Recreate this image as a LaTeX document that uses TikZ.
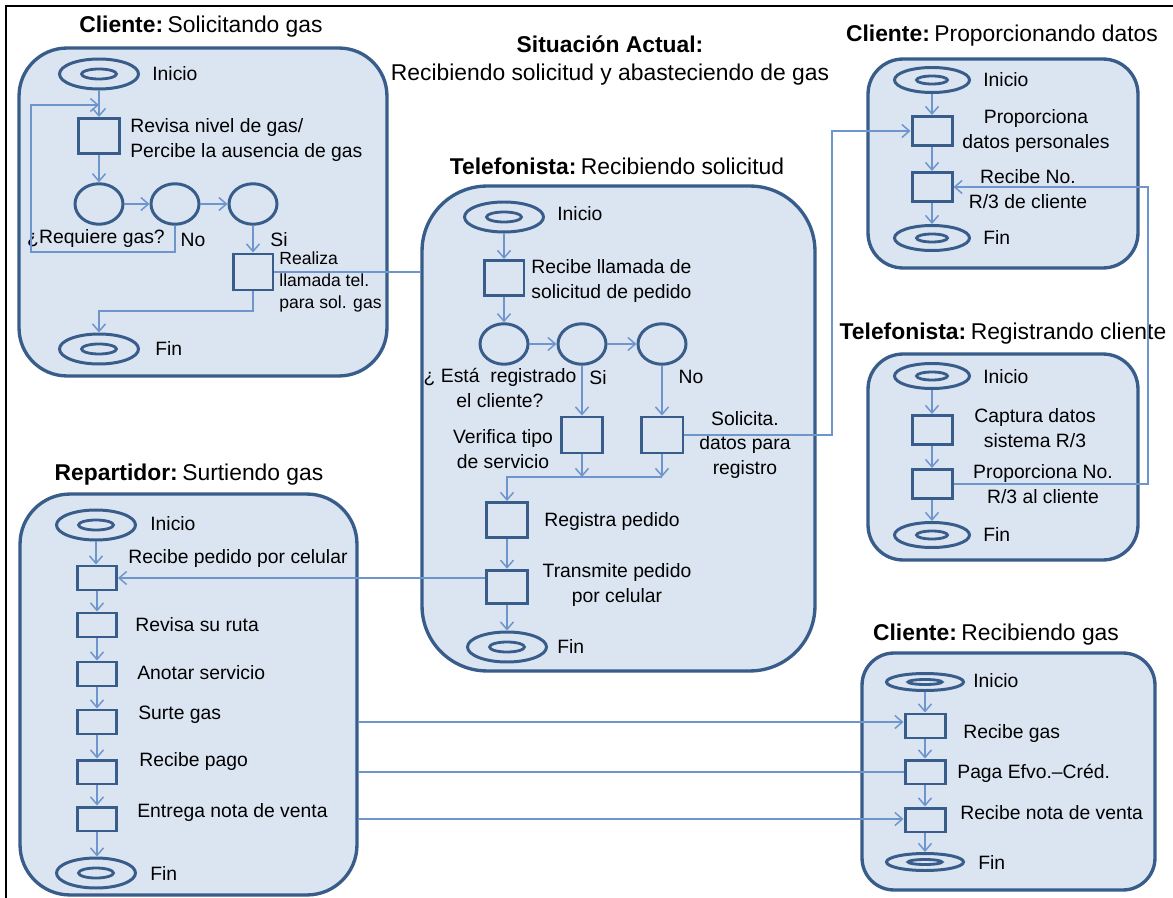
\documentclass[tikz,border=0pt]{standalone}
\usepackage{fontspec}
\setmainfont{Liberation Sans}
\usetikzlibrary{shapes.geometric,arrows.meta}
\definecolor{pfill}{RGB}{219,229,241}
\definecolor{pborder}{RGB}{56,93,138}
\definecolor{lblue}{RGB}{110,150,205}
\tikzset{
  panel/.style={draw=pborder,fill=pfill,line width=1.9pt,inner sep=0pt},
  shp/.style={draw=pborder,line width=1.7pt,inner sep=0pt},
  box/.style 2 args={shp,rectangle,minimum width=#1,minimum height=#2},
  circ/.style={shp,ellipse,minimum width=0.96cm,minimum height=0.81cm},
  term/.style n args={4}{shp,ellipse,minimum width=#1,minimum height=#2,
    path picture={\draw[pborder,line width=1.6pt] (path picture bounding box.center) ellipse [x radius=#3,y radius=#4];}},
  bigterm/.style={term={1.58cm}{0.6cm}{0.35cm}{0.1cm}},
  midterm/.style={term={1.5cm}{0.5cm}{0.31cm}{0.08cm}},
  flatterm/.style={term={1.54cm}{0.34cm}{0.34cm}{0.05cm}},
  lbl/.style={inner sep=0pt,font=\fontsize{11}{13.8}\selectfont},
  sml/.style={inner sep=0pt,font=\fontsize{10}{12.5}\selectfont},
  ttl/.style={inner sep=0pt,font=\fontsize{13}{15.6}\selectfont},
  conn/.style={draw=lblue,line width=0.85pt},
  arr/.style={conn,-{Straight Barb[length=0.15cm,width=0.26cm]}}
}
\newcommand{\tsp}{\hspace{0.2em}}
\begin{document}
\begin{tikzpicture}[x=0.02cm,y=-0.02cm]
\useasboundingbox (0,0) rectangle (1173,898);
\fill[white] (0,0) rectangle (1173,898);
\draw[black,line width=1.5pt] (6,898) -- (6,6) -- (1173,6);

% ---------- panels ----------
\node[panel,rounded corners=0.96cm,minimum width=7.36cm,minimum height=6.56cm] (P1) at (203,212) {};
\node[panel,rounded corners=1.3cm,minimum width=7.86cm,minimum height=9.7cm] (P2) at (618.5,428.5) {};
\node[panel,rounded corners=0.7cm,minimum width=5.4cm,minimum height=4.18cm] (P3) at (1003,163.5) {};
\node[panel,rounded corners=0.7cm,minimum width=5.4cm,minimum height=4.12cm] (P4) at (1003,457) {};
\node[panel,rounded corners=1.0cm,minimum width=6.74cm,minimum height=8.02cm] (P5) at (188.5,694.5) {};
\node[panel,rounded corners=0.64cm,minimum width=5.86cm,minimum height=4.74cm] (P6) at (1008.5,771.5) {};

% ---------- titles ----------
\node[ttl] (t1) at (201,27) {\textbf{Cliente:}\tsp Solicitando gas};
\node[ttl,align=center] (t0) at (610,60.5) {\textbf{Situación Actual:}\\Recibiendo solicitud y abasteciendo de gas};
\node[ttl] (t2) at (617,166) {\textbf{Telefonista:}\tsp Recibiendo solicitud};
\node[ttl] (t3) at (1002,36) {\textbf{Cliente:}\tsp Proporcionando datos};
\node[ttl] (t4) at (1003,334) {\textbf{Telefonista:}\tsp Registrando cliente};
\node[ttl] (t5) at (189,475) {\textbf{Repartidor:}\tsp Surtiendo gas};
\node[ttl] (t6) at (996,635) {\textbf{Cliente:}\tsp Recibiendo gas};

% ---------- panel 1 ----------
\node[bigterm] (a0) at (99,74) {};
\node[lbl,anchor=west] (a0l) at (152,74) {Inicio};
\node[box={0.82cm}{0.70cm}] (a1) at (99,136) {};
\node[lbl,anchor=west,align=left] (a1l) at (130,140) {Revisa nivel de gas/\\Percibe la ausencia de gas};
\node[circ] (a2) at (99,204) {};
\node[circ] (a3) at (175,204) {};
\node[circ] (a4) at (253,204) {};
\node[lbl] (a2l) at (96,239) {¿Requiere gas?};
\node[lbl] (a3l) at (193,240) {No};
\node[lbl] (a4l) at (279,240) {Si};
\node[box={0.8cm}{0.72cm}] (a5) at (253,272) {};
\node[sml,anchor=west,align=left] (a5l) at (279,282) {Realiza\\llamada tel.\\para sol. gas};
\node[bigterm] (a6) at (99,349) {};
\node[lbl,anchor=west] (a6l) at (155,348) {Fin};

\coordinate (lpA) at (31,252);
\coordinate (lpB) at (31,105);
\coordinate (fA) at (253,311);
\draw[arr] (a0.south) -- (a1.north);
\draw[arr] (a1.south) -- (a2.north);
\draw[arr] (a2.east) -- (a3.west);
\draw[arr] (a3.east) -- (a4.west);
\draw[arr] (a4.south) -- (a5.north);
\draw[arr] (a3.south) |- (lpA) -- (lpB) -- (a0.south |- lpB);
\draw[arr] (a5.south) -- (fA) -| (a6.north);
\draw[conn] (a5.east) -- (a5.east -| P2.west);

% ---------- panel 2 ----------
\node[bigterm] (b0) at (504,217) {};
\node[lbl,anchor=west] (b0l) at (557,214) {Inicio};
\node[box={0.8cm}{0.7cm}] (b1) at (504,278) {};
\node[lbl,anchor=west,align=left] (b1l) at (531,281) {Recibe llamada de\\solicitud de pedido};
\node[circ] (b2) at (504,344) {};
\node[circ] (b3) at (582,344) {};
\node[circ] (b4) at (662,344) {};
\node[lbl,align=center] (b2l) at (500,388) {¿ Está\ \ registrado\\el cliente?};
\node[lbl] (b3l) at (598,378) {Si};
\node[lbl] (b4l) at (691,377) {No};
\node[box={0.82cm}{0.72cm}] (b5) at (582,435) {};
\node[box={0.84cm}{0.72cm}] (b6) at (662,435) {};
\node[lbl,align=center] (b5l) at (503,449) {Verifica tipo\\de servicio};
\node[lbl,align=center] (b6l) at (745,445) {Solicita.\\datos para\\registro};
\node[box={0.82cm}{0.7cm}] (b7) at (507,520) {};
\node[lbl] (b7l) at (612,522) {Registra pedido};
\node[box={0.82cm}{0.67cm}] (b8) at (507,587) {};
\node[lbl,align=center] (b8l) at (617,585) {Transmite pedido\\por celular};
\node[bigterm] (b9) at (507,647) {};
\node[lbl,anchor=west] (b9l) at (557,646) {Fin};

\coordinate (mrg) at (0,477);
\coordinate (xS) at (832,0);
\draw[arr] (b0.south) -- (b1.north);
\draw[arr] (b1.south) -- (b2.north);
\draw[arr] (b2.east) -- (b3.west);
\draw[arr] (b3.east) -- (b4.west);
\draw[arr] (b3.south) -- (b5.north);
\draw[arr] (b4.south) -- (b6.north);
\draw[arr] (b5.south) -- (b5.south |- mrg);
\draw[arr] (b6.south) -- (b6.south |- mrg);
\draw[arr] (b6.south |- mrg) -- (b7.north |- mrg) -- (b7.north);
\draw[arr] (b7.south) -- (b8.north);
\draw[arr] (b8.south) -- (b9.north);

% ---------- panel 3 ----------
\node[midterm] (c0) at (932,80) {};
\node[lbl,anchor=west] (c0l) at (983,80) {Inicio};
\node[box={0.8cm}{0.58cm}] (c1) at (932,131) {};
\node[lbl,align=center] (c1l) at (1036,131) {Proporciona\\datos personales};
\node[box={0.8cm}{0.58cm}] (c2) at (932,187) {};
\node[lbl,align=center] (c2l) at (1028,189) {Recibe No.\\R/3 de cliente};
\node[midterm] (c3) at (932,238) {};
\node[lbl,anchor=west] (c3l) at (983,238) {Fin};
\draw[arr] (c0.south) -- (c1.north);
\draw[arr] (c1.south) -- (c2.north);
\draw[arr] (c2.south) -- (c3.north);

% ---------- panel 4 ----------
\node[midterm] (d0) at (932,376) {};
\node[lbl,anchor=west] (d0l) at (983,377) {Inicio};
\node[box={0.8cm}{0.58cm}] (d1) at (932,430) {};
\node[lbl,align=center] (d1l) at (1035,428) {Captura datos\\sistema R/3};
\node[box={0.8cm}{0.58cm}] (d2) at (932,484) {};
\node[lbl,align=center] (d2l) at (1043,484) {Proporciona No.\\R/3 al cliente};
\node[midterm] (d3) at (932,535) {};
\node[lbl,anchor=west] (d3l) at (983,534) {Fin};
\draw[arr] (d0.south) -- (d1.north);
\draw[arr] (d1.south) -- (d2.north);
\draw[arr] (d2.south) -- (d3.north);

\coordinate (xR) at (1148,0);
\draw[arr] (b6.east) -- (b6.east -| xS) |- (c1.west);
\draw[arr] (d2.east) -- (d2.east -| xR) |- (c2.east);

% ---------- panel 5 ----------
\node[bigterm] (e0) at (96,525) {};
\node[lbl,anchor=west] (e0l) at (150,524) {Inicio};
\node[box={0.78cm}{0.48cm}] (e1) at (97,578) {};
\node[lbl,anchor=west] (e1l) at (128,559) {Recibe pedido por celular};
\node[box={0.78cm}{0.48cm}] (e2) at (97,625) {};
\node[lbl,anchor=west] (e2l) at (135,625) {Revisa su ruta};
\node[box={0.78cm}{0.48cm}] (e3) at (97,674) {};
\node[lbl,anchor=west] (e3l) at (137,673) {Anotar servicio};
\node[box={0.78cm}{0.48cm}] (e4) at (97,722) {};
\node[lbl,anchor=west] (e4l) at (138,715) {Surte gas};
\node[box={0.78cm}{0.48cm}] (e5) at (97,772) {};
\node[lbl,anchor=west] (e5l) at (139,761) {Recibe pago};
\node[box={0.78cm}{0.48cm}] (e6) at (97,819) {};
\node[lbl,anchor=west] (e6l) at (137,812) {Entrega nota de venta};
\node[bigterm] (e7) at (96,873) {};
\node[lbl,anchor=west] (e7l) at (150,873) {Fin};
\draw[arr] (e0.south) -- (e0.south |- e1.north);
\draw[arr] (e1.south) -- (e2.north);
\draw[arr] (e2.south) -- (e3.north);
\draw[arr] (e3.south) -- (e4.north);
\draw[arr] (e4.south) -- (e5.north);
\draw[arr] (e5.south) -- (e6.north);
\draw[arr] (e6.south) -- (e6.south |- e7.north);
\draw[arr] (b8.west |- e1.east) -- (e1.east);

% ---------- panel 6 ----------
\node[flatterm] (f0) at (925,682) {};
\node[lbl,anchor=west] (f0l) at (973,681) {Inicio};
\node[box={0.8cm}{0.48cm}] (f1) at (925,726) {};
\node[lbl,anchor=west] (f1l) at (963,733) {Recibe gas};
\node[box={0.8cm}{0.48cm}] (f2) at (925,772) {};
\node[lbl,anchor=west] (f2l) at (957,773) {Paga Efvo.–Créd.};
\node[box={0.8cm}{0.48cm}] (f3) at (925,820) {};
\node[lbl,anchor=west] (f3l) at (960,813) {Recibe nota de venta};
\node[flatterm] (f4) at (925,862) {};
\node[lbl,anchor=west] (f4l) at (978,862) {Fin};
\draw[arr] (f0.south) -- (f1.north);
\draw[arr] (f1.south) -- (f2.north);
\draw[arr] (f2.south) -- (f3.north);
\draw[arr] (f3.south) -- (f4.north);

\draw[arr] (P5.east |- e4) -- (f1.west |- e4);
\draw[conn] (P5.east |- e5) -- (f2.west |- e5);
\draw[arr] (P5.east |- e6) -- (f3.west |- e6);
\end{tikzpicture}
\end{document}
